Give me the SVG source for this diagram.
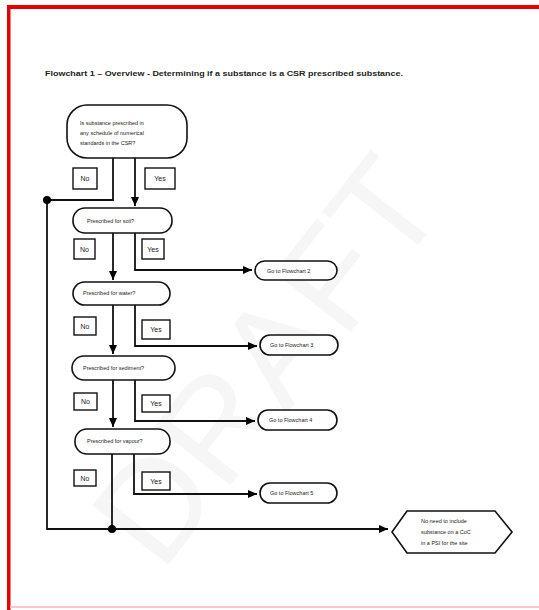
<svg xmlns="http://www.w3.org/2000/svg" width="539" height="610" viewBox="0 0 539 610">
<defs>
<marker id="arr" markerUnits="userSpaceOnUse" markerWidth="10" markerHeight="10" refX="9" refY="5" orient="auto">
<path d="M0,1 L9,5 L0,9 Z" fill="#000"/>
</marker>
<style>
.node{fill:#fff;stroke:#111;stroke-width:1.6}
.lbl{fill:#fff;stroke:#111;stroke-width:1.4}
.con{fill:none;stroke:#111;stroke-width:1.8}
.t{font-family:"Liberation Sans",Arial,sans-serif;fill:#222;font-size:5.5px}
.lt{font-family:"Liberation Sans",Arial,sans-serif;fill:#222;font-size:7px;text-anchor:middle}
.wm{font-family:"Liberation Sans",Arial,sans-serif;fill:#f6f6f6;font-size:140px;text-anchor:middle}
</style>
</defs>
<rect x="0" y="0" width="539" height="610" fill="#fff"/>
<text class="wm" transform="translate(305,390) rotate(-52)">DRAFT</text>
<g id="frame">
<rect x="7" y="5" width="532" height="4" fill="#e60000"/>
<rect x="7" y="5" width="3.5" height="605" fill="#e60000"/>
<rect x="10" y="606" width="529" height="2" fill="#f8c8c8"/>
</g>
<text id="title" x="45" y="76" font-family="'Liberation Sans',Arial,sans-serif" font-size="8" font-weight="bold" fill="#222" textLength="358" lengthAdjust="spacingAndGlyphs">Flowchart 1 – Overview - Determining if a substance is a CSR prescribed substance.</text>
<g id="connectors">
<polyline class="con" points="113,158 113,200 47,200 47,529 388,529" marker-end="url(#arr)"/>
<line class="con" x1="135" y1="158" x2="135" y2="206" marker-end="url(#arr)"/>
<line class="con" x1="113" y1="233" x2="113" y2="280" marker-end="url(#arr)"/>
<polyline class="con" points="135,233 135,270 252,270" marker-end="url(#arr)"/>
<line class="con" x1="113" y1="305" x2="113" y2="354" marker-end="url(#arr)"/>
<polyline class="con" points="135,305 135,346 257,346" marker-end="url(#arr)"/>
<line class="con" x1="113" y1="380" x2="113" y2="427" marker-end="url(#arr)"/>
<polyline class="con" points="135,380 135,421 255,421" marker-end="url(#arr)"/>
<line class="con" x1="112" y1="454" x2="112" y2="529"/>
<polyline class="con" points="134,454 134,494 257,494" marker-end="url(#arr)"/>
<circle cx="47" cy="200" r="4" fill="#000"/>
<circle cx="112" cy="529" r="4" fill="#000"/>
</g>
<g id="labels">
<rect class="lbl" x="73" y="168" width="24" height="21"/><text class="lt" x="85" y="181">No</text>
<rect class="lbl" x="145" y="168" width="30" height="21"/><text class="lt" x="160" y="181">Yes</text>
<rect class="lbl" x="74" y="239" width="21" height="20"/><text class="lt" x="84.5" y="251.5">No</text>
<rect class="lbl" x="142" y="239" width="22" height="20"/><text class="lt" x="153" y="251.5">Yes</text>
<rect class="lbl" x="74" y="317" width="22" height="18"/><text class="lt" x="85" y="328.5">No</text>
<rect class="lbl" x="142" y="320" width="28" height="19"/><text class="lt" x="156" y="332">Yes</text>
<rect class="lbl" x="74" y="393" width="23" height="17"/><text class="lt" x="85.5" y="404">No</text>
<rect class="lbl" x="142" y="395" width="28" height="17"/><text class="lt" x="156" y="406">Yes</text>
<rect class="lbl" x="74" y="470" width="22" height="16"/><text class="lt" x="85" y="480.5">No</text>
<rect class="lbl" x="142" y="472" width="28" height="18"/><text class="lt" x="156" y="483.5">Yes</text>
</g>
<g id="start">
<rect class="node" x="67" y="105" width="120" height="53" rx="20"/>
<text class="t" x="80" y="125">Is substance prescribed in</text>
<text class="t" x="80" y="134.5">any schedule of numerical</text>
<text class="t" x="80" y="145">standards in the CSR?</text>
</g>
<g id="soil">
<rect class="node" x="73" y="208" width="99" height="25" rx="12"/>
<text class="t" x="87" y="222.5">Prescribed for soil?</text>
</g>
<g id="water">
<rect class="node" x="73" y="282" width="97" height="23" rx="11.5"/>
<text class="t" x="83" y="295">Prescribed for water?</text>
</g>
<g id="sediment">
<rect class="node" x="72" y="356" width="103" height="24" rx="12"/>
<text class="t" x="83" y="370">Prescribed for sediment?</text>
</g>
<g id="vapour">
<rect class="node" x="75" y="429" width="95" height="25" rx="12"/>
<text class="t" x="87" y="443">Prescribed for vapour?</text>
</g>
<g id="go2">
<rect class="node" x="255" y="261" width="82" height="19" rx="9.5"/>
<text class="t" x="267" y="272.5">Go to Flowchart 2</text>
</g>
<g id="go3">
<rect class="node" x="260" y="335" width="78" height="20" rx="10"/>
<text class="t" x="270" y="347">Go to Flowchart 3</text>
</g>
<g id="go4">
<rect class="node" x="258" y="410" width="79" height="20" rx="10"/>
<text class="t" x="269" y="422">Go to Flowchart 4</text>
</g>
<g id="go5">
<rect class="node" x="260" y="483" width="77" height="20" rx="10"/>
<text class="t" x="270" y="495">Go to Flowchart 5</text>
</g>
<g id="end">
<polygon class="node" points="392,532 407,511 495,511 512,532 495,553 407,553"/>
<text class="t" x="421" y="523">No need to include</text>
<text class="t" x="421" y="534">substance on a CoC</text>
<text class="t" x="421" y="545">in a PSI for the site</text>
</g>
</svg>
